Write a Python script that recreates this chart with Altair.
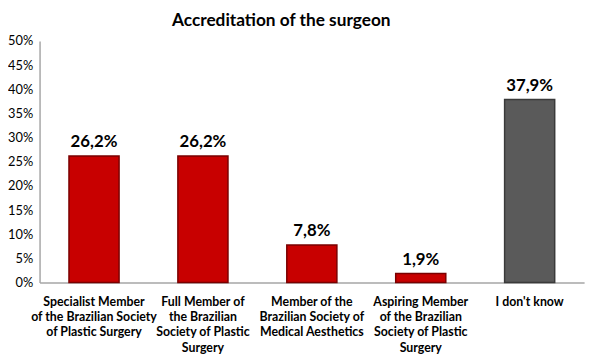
import altair as alt
import pandas as pd

categories = [
    "Specialist Member|of the Brazilian Society|of Plastic Surgery",
    "Full Member of|the Brazilian|Society of Plastic|Surgery",
    "Member of the|Brazilian Society of|Medical Aesthetics",
    "Aspiring Member|of the Brazilian|Society of Plastic|Surgery",
    "I don't know",
]
values = [26.2, 26.2, 7.8, 1.9, 37.9]
labels = ["26,2%", "26,2%", "7,8%", "1,9%", "37,9%"]
groups = ["red", "red", "red", "red", "grey"]
y_ticks = [0, 5, 10, 15, 20, 25, 30, 35, 40, 45, 50]

df = pd.DataFrame({"cat": categories, "value": values, "label": labels, "group": groups})

FONT = "Lato"

x = alt.X("cat:N", sort=categories, title=None,
          scale=alt.Scale(paddingInner=0.54, paddingOuter=0.27),
          axis=alt.Axis(labelAngle=0, labelExpr="split(datum.label, '|')",
                        labelFont=FONT, labelFontWeight="bold", labelFontSize=12.5,
                        labelColor="#000000", labelLineHeight=15.5, labelPadding=13,
                        ticks=False, domainColor="#a6a6a6", domainWidth=1.5,
                        labelLimit=200, labelOverlap=False))
y = alt.Y("value:Q", title=None,
          scale=alt.Scale(domain=[0, 50]),
          axis=alt.Axis(values=y_ticks, labelExpr="datum.value + '%'",
                        labelFont=FONT, labelFontSize=13, labelColor="#000000",
                        ticks=False, grid=False, domainColor="#a6a6a6", domainWidth=1.5,
                        labelPadding=7, labelOverlap=False, labelFlush=False))

color = alt.Color("group:N", scale=alt.Scale(domain=["red", "grey"], range=["#c80000", "#5a5a5a"]), legend=None)
stroke = alt.Stroke("group:N", scale=alt.Scale(domain=["red", "grey"], range=["#7a0000", "#3a3a3a"]), legend=None)

base = alt.Chart(df).encode(x=x, y=y)
bars = base.mark_bar(strokeWidth=1.5).encode(color=color, stroke=stroke)
text = base.mark_text(dy=-14, font=FONT, fontWeight="bold", fontSize=17, color="#000000").encode(text="label:N")

chart = alt.layer(bars, text).properties(
    width=552, height=245,
    title=alt.TitleParams("Accreditation of the surgeon", font=FONT, fontSize=17.5, fontWeight="bold",
                          color="#000000", anchor="middle", dx=-31, offset=6),
    autosize=alt.AutoSizeParams(type="none"),
    padding={"left": 32, "top": 31, "right": 8, "bottom": 70},
).configure_view(stroke=None)

chart.save("out.html", embed_options={"renderer": "svg", "actions": False})
